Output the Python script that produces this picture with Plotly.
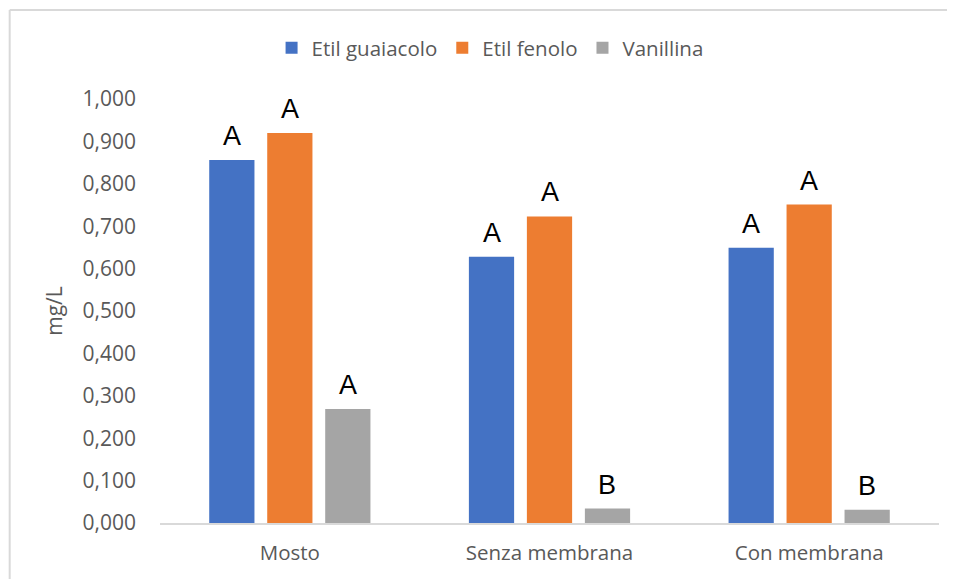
import plotly.graph_objects as go

campioni = ["Mosto", "Senza membrana", "Con membrana"]
serie = ["Etil guaiacolo", "Etil fenolo", "Vanillina"]
etil_guaiacolo = [0.856, 0.628, 0.649]
etil_fenolo = [0.920, 0.723, 0.751]
vanillina = [0.269, 0.034, 0.031]
lettere_guaiacolo = ["A", "A", "A"]
lettere_fenolo = ["A", "A", "A"]
lettere_vanillina = ["A", "B", "B"]

colori = ["#4472C4", "#ED7D31", "#A5A5A5"]
valori = [etil_guaiacolo, etil_fenolo, vanillina]
lettere = [lettere_guaiacolo, lettere_fenolo, lettere_vanillina]

bargap = 0.33
bargroupgap = 0.22

# la pagina html ha un margine di 8px: la figura e' ridotta di conseguenza
W, H = 939, 571
L, T = 151.5, 91
pw, ph = 780, 424
R, B = W - L - pw, H - T - ph

fig = go.Figure()
for nome, v, col in zip(serie, valori, colori):
    fig.add_trace(go.Bar(x=campioni, y=v, name=nome,
                         marker=dict(color=col, line=dict(width=0))))

# lettere di significativita' sopra le barre
slot = (1 - bargap) / len(serie)
for k, (v, lab) in enumerate(zip(valori, lettere)):
    off = (k - (len(serie) - 1) / 2) * slot
    for i, (val, l) in enumerate(zip(v, lab)):
        fig.add_annotation(x=i + off, y=val, xref="x", yref="y", text=l,
                           showarrow=False, yanchor="bottom", yshift=7,
                           font=dict(family="Liberation Sans", size=27, color="black"))

# cornice del grafico (bordo grigio chiaro in alto e a sinistra)
x_sx = (1 - L) / pw
y_top = (ph + T - 2) / ph
bordo = dict(color="#d9d9d9", width=2)
fig.add_shape(type="line", xref="paper", yref="paper", x0=x_sx, x1=x_sx,
              y0=-(B + 20) / ph, y1=y_top, line=bordo, layer="below")
fig.add_shape(type="line", xref="paper", yref="paper", x0=x_sx, x1=(W + 20 - L) / pw,
              y0=y_top, y1=y_top, line=bordo, layer="below")

fig.update_layout(
    width=W, height=H,
    margin=dict(l=L, r=R, t=T, b=B, autoexpand=False),
    paper_bgcolor="white", plot_bgcolor="white",
    separators=",.",
    barmode="group", bargap=bargap, bargroupgap=bargroupgap,
    font=dict(family="Open Sans", color="#595959", size=19),
    legend=dict(orientation="h", x=(482 - L) / pw, xanchor="center",
                y=(ph + T - 40) / ph, yanchor="middle",
                font=dict(size=20.5, color="#595959"),
                traceorder="normal"),
    showlegend=True,
)
fig.update_yaxes(range=[0, 1.0], tickformat=".3f", dtick=0.1, showgrid=False,
                 zeroline=False, showline=False, ticks="", automargin=False,
                 ticklabelstandoff=23,
                 tickfont=dict(size=21, color="#595959"),
                 title=dict(text="mg/L", font=dict(size=21, color="#595959"), standoff=14))
fig.update_xaxes(showline=True, linecolor="#d9d9d9", linewidth=1.5, ticks="",
                 automargin=False, ticklabelstandoff=11,
                 tickfont=dict(size=20.5, color="#595959"))

fig.write_html("out.html")
